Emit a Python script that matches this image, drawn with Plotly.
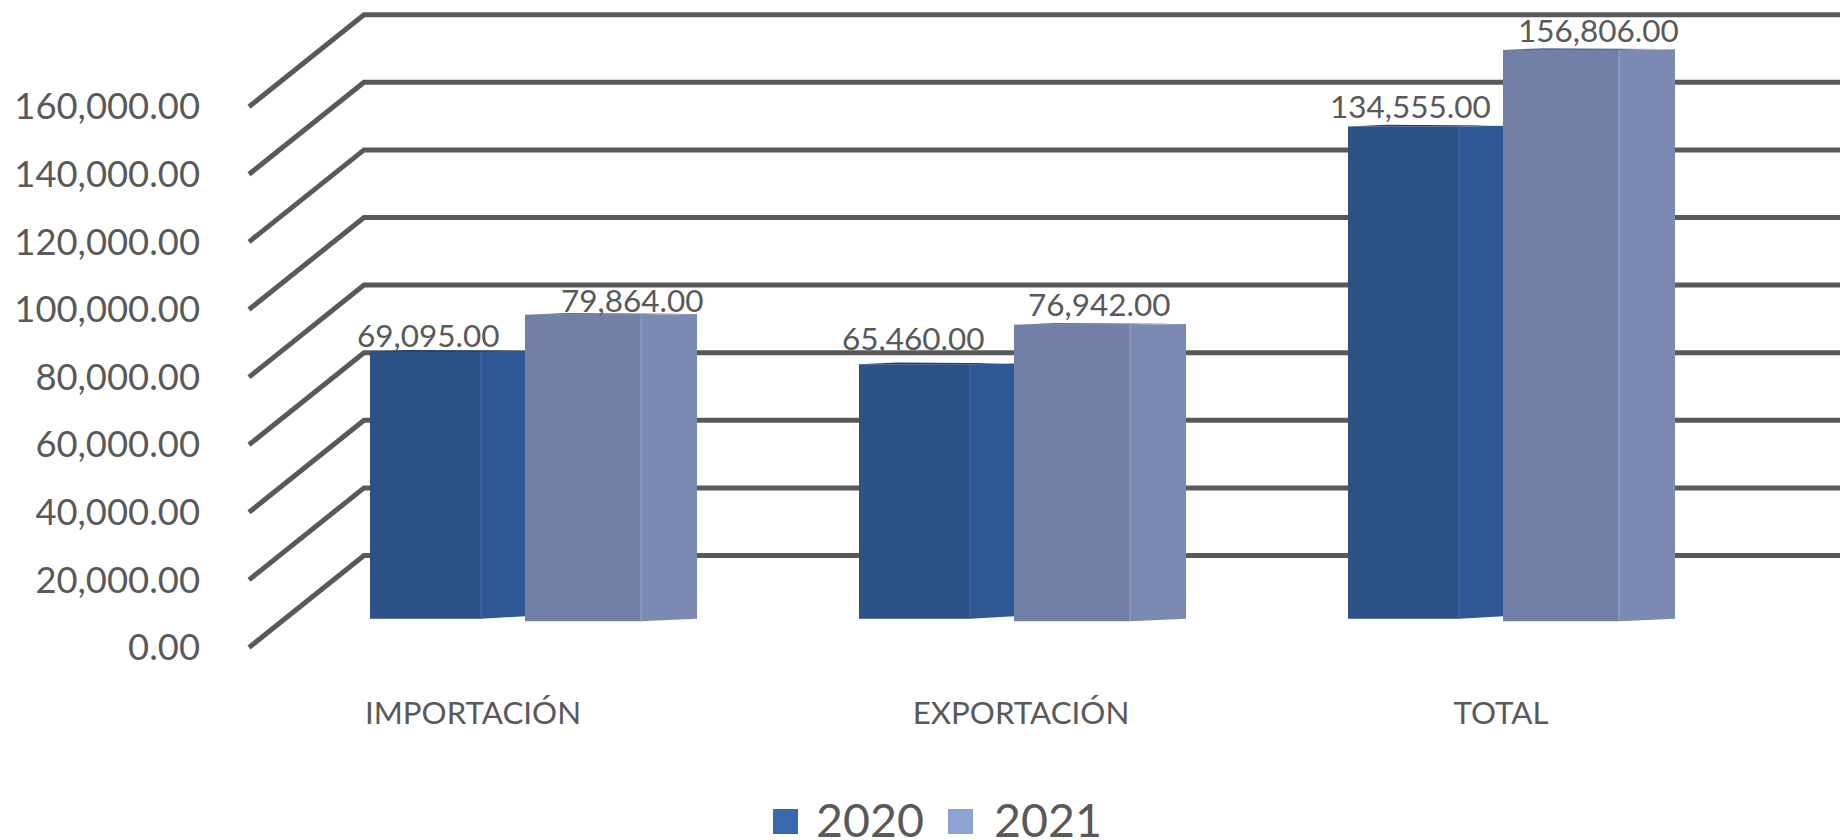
import plotly.graph_objects as go

# ---- data ----
categories = ["IMPORTACIÓN", "EXPORTACIÓN", "TOTAL"]
values_2020 = [69095, 65460, 134555]
values_2021 = [79864, 76942, 156806]
tick_values = [0, 20000, 40000, 60000, 80000, 100000, 120000, 140000, 160000]

# ---- layout constants (pixel-like x axis, value-based y axes) ----
W, H = 1840, 840
PLOT_L, PLOT_B = 201, 690
TEXT = "#595959"
FONT = "Lato"
FRONT_SCALE = 0.00338     # px per unit on the wall/axis plane
FRONT_ZERO = 647.5
BAR_SCALE = 0.00344       # px per unit on the bars' plane
BAR_ZERO = 589.4
DIAG_X0, DIAG_X1 = 249, 364
DEPTH = 92 / FRONT_SCALE
GROUP_X0, GROUP_STEP = 370, 489
FRONT_W_A, SIDE_W_A = 111, 44
GAP_B, FRONT_W_B, SIDE_W_B = 155, 116, 56
FLOOR_A = -(618.7 - BAR_ZERO) / BAR_SCALE
FLOOR_B = -(621.2 - BAR_ZERO) / BAR_SCALE
CAP = 2.5 / BAR_SCALE
LABEL_X = [473, 1021, 1501]
LABEL_OFFSET_A = [58, 54, 62]
LABEL_OFFSET_B = [107, 85, 95]
LABEL_SHIFT_A = [-3, 6, 1]
LABEL_SHIFT_B = [-5, 1, 0]

fig = go.Figure()

# perspective grid
for t in tick_values:
    fig.add_trace(go.Scatter(
        x=[DIAG_X0, DIAG_X1, W], y=[t, t + DEPTH, t + DEPTH], mode="lines",
        line=dict(color="#595959", width=5), showlegend=False, hoverinfo="skip",
        xaxis="x", yaxis="y", cliponaxis=False))

lefts_a = [GROUP_X0 + i * GROUP_STEP for i in range(len(categories))]
lefts_b = [x + GAP_B for x in lefts_a]

# front faces
fig.add_trace(go.Bar(x=lefts_a, y=[v - FLOOR_A for v in values_2020], base=FLOOR_A,
                     width=FRONT_W_A, offset=0, marker=dict(color="#2C5187", line_width=0),
                     yaxis="y2", showlegend=False, hoverinfo="skip"))
fig.add_trace(go.Bar(x=lefts_b, y=[v - FLOOR_B for v in values_2021], base=FLOOR_B,
                     width=FRONT_W_B, offset=0, marker=dict(color="#7280A8", line_width=0),
                     yaxis="y2", showlegend=False, hoverinfo="skip"))

# side faces and top caps
def faces(lefts, vals, fw, sw, floor, side_col, cap_col, edge_col):
    lift = 2.5 / BAR_SCALE
    for x, v in zip(lefts, vals):
        xm, xr = x + fw, x + fw + sw
        fig.add_trace(go.Scatter(
            x=[xm, xr, xr, xm, xm], y=[floor, floor + lift, v + CAP * 0.3, v, floor],
            mode="lines", fill="toself", fillcolor=side_col, line=dict(width=0),
            yaxis="y2", showlegend=False, hoverinfo="skip"))
        fig.add_trace(go.Scatter(
            x=[x, x + fw * 0.35, xm + sw * 0.75, xm, x], y=[v, v + CAP * 0.7, v + CAP * 0.4, v, v],
            mode="lines", fill="toself", fillcolor=cap_col, line=dict(width=0),
            yaxis="y2", showlegend=False, hoverinfo="skip"))
        fig.add_trace(go.Scatter(
            x=[xm, xm], y=[floor, v], mode="lines", line=dict(color=edge_col, width=1),
            yaxis="y2", showlegend=False, hoverinfo="skip"))

faces(lefts_a, values_2020, FRONT_W_A, SIDE_W_A, FLOOR_A, "#2F5795", "#1F3F78", "#4A6CA5")
faces(lefts_b, values_2021, FRONT_W_B, SIDE_W_B, FLOOR_B, "#7B8AB3", "#5A6A96", "#98A6C8")

# data labels
annotations = []
for lefts, vals, offs, shifts in ((lefts_a, values_2020, LABEL_OFFSET_A, LABEL_SHIFT_A),
                                  (lefts_b, values_2021, LABEL_OFFSET_B, LABEL_SHIFT_B)):
    for x, v, o, s in zip(lefts, vals, offs, shifts):
        annotations.append(dict(
            x=x + o, y=v, xref="x", yref="y2", text=f"{v:,.2f}", showarrow=False,
            xanchor="center", yanchor="bottom", yshift=s, borderpad=0,
            font=dict(family=FONT, size=31.5, color=TEXT)))

# legend entries: the swatches themselves are sized with the rectangles below
fig.add_trace(go.Bar(x=[None], y=[None], name="2020",
                     marker=dict(color="rgba(58,104,173,0)", line=dict(width=0, color="rgba(0,0,0,0)"))))
fig.add_trace(go.Bar(x=[None], y=[None], name="2021",
                     marker=dict(color="rgba(143,162,212,0)", line=dict(width=0, color="rgba(0,0,0,0)"))))

def px_x(p):
    return (p - PLOT_L) / (W - PLOT_L)

def px_y(p):
    return (PLOT_B - p) / PLOT_B

swatches = [dict(type="rect", xref="paper", yref="paper", x0=px_x(a), x1=px_x(a + 25),
                 y0=px_y(834), y1=px_y(809), fillcolor=c, line_width=0, layer="above")
            for a, c in ((773, "#3A68AD"), (948, "#8FA2D4"))]

fig.update_layout(
    width=W, height=H, autosize=False,
    margin=dict(l=PLOT_L, r=0, t=0, b=H - PLOT_B, pad=0),
    paper_bgcolor="white", plot_bgcolor="rgba(0,0,0,0)",
    barmode="overlay",
    font=dict(family=FONT, color=TEXT),
    shapes=swatches,
    annotations=annotations,
    xaxis=dict(range=[PLOT_L, W], tickmode="array", tickvals=LABEL_X, ticktext=categories,
               showgrid=False, zeroline=False, showline=False, ticks="", ticklabelstandoff=2,
               tickfont=dict(family=FONT, size=31.3, color=TEXT)),
    yaxis=dict(range=[(FRONT_ZERO - PLOT_B) / FRONT_SCALE, FRONT_ZERO / FRONT_SCALE],
               tickmode="array", tickvals=tick_values, tickformat=",.2f",
               showgrid=False, zeroline=False, showline=False, ticks="",
               tickfont=dict(family=FONT, size=36.4, color=TEXT)),
    yaxis2=dict(range=[(BAR_ZERO - PLOT_B) / BAR_SCALE, BAR_ZERO / BAR_SCALE],
                overlaying="y", visible=False),
    legend=dict(orientation="h", xref="container", yref="container", x=776 / W, y=1 - 782 / H,
                xanchor="left", yanchor="top", font=dict(family=FONT, size=46.5, color=TEXT),
                bgcolor="rgba(0,0,0,0)", entrywidth=133, entrywidthmode="pixels",
                itemclick=False, itemdoubleclick=False),
)

fig.write_html("out.html", config={"displayModeBar": False},
               post_script="document.body.style.margin='0';")
